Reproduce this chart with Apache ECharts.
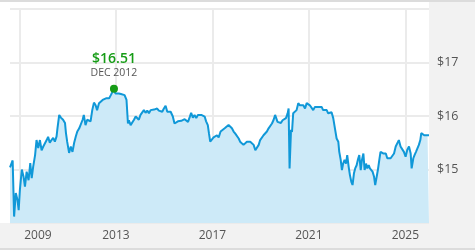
<!DOCTYPE html>
<html>
<head>
<meta charset="utf-8">
<script src="https://cdn.jsdelivr.net/npm/echarts@6/dist/echarts.min.js"></script>
<style>
html,body{margin:0;padding:0;background:#f2f2f2;}
#c{width:475px;height:250px;}
</style>
</head>
<body>
<div id="c"></div>
<script>
// Dates as decimal years
const years = [2008.61,2008.72,2008.78,2008.85,2008.92,2008.97,2009.02,2009.10,2009.17,2009.23,2009.30,2009.38,2009.45,2009.51,2009.57,2009.65,2009.71,2009.78,2009.85,2009.92,2009.99,2010.06,2010.13,2010.19,2010.26,2010.33,2010.40,2010.47,2010.54,2010.58,2010.65,2010.72,2010.81,2010.89,2010.93,2010.98,2011.06,2011.13,2011.20,2011.27,2011.34,2011.40,2011.48,2011.55,2011.62,2011.67,2011.74,2011.81,2011.89,2011.95,2012.02,2012.09,2012.16,2012.22,2012.30,2012.37,2012.45,2012.51,2012.59,2012.66,2012.72,2012.79,2012.86,2012.92,2012.98,2013.04,2013.12,2013.21,2013.29,2013.36,2013.44,2013.50,2013.54,2013.61,2013.68,2013.75,2013.82,2013.88,2013.95,2014.02,2014.09,2014.16,2014.23,2014.30,2014.37,2014.44,2014.50,2014.58,2014.65,2014.71,2014.78,2014.85,2014.92,2014.99,2015.06,2015.13,2015.20,2015.27,2015.36,2015.43,2015.50,2015.57,2015.64,2015.71,2015.78,2015.85,2015.91,2015.99,2016.06,2016.12,2016.19,2016.26,2016.33,2016.40,2016.47,2016.54,2016.61,2016.68,2016.74,2016.81,2016.86,2016.91,2016.98,2017.05,2017.12,2017.19,2017.26,2017.34,2017.41,2017.51,2017.57,2017.67,2017.74,2017.81,2017.88,2017.95,2018.02,2018.09,2018.15,2018.22,2018.29,2018.36,2018.43,2018.50,2018.57,2018.64,2018.71,2018.78,2018.85,2018.92,2018.98,2019.05,2019.12,2019.19,2019.26,2019.33,2019.40,2019.47,2019.54,2019.60,2019.65,2019.70,2019.77,2019.84,2019.91,2019.98,2020.05,2020.12,2020.16,2020.20,2020.26,2020.30,2020.35,2020.42,2020.49,2020.56,2020.63,2020.70,2020.77,2020.84,2020.91,2020.97,2021.04,2021.11,2021.18,2021.25,2021.32,2021.39,2021.46,2021.53,2021.59,2021.67,2021.74,2021.80,2021.87,2021.94,2022.01,2022.08,2022.15,2022.22,2022.26,2022.32,2022.37,2022.42,2022.48,2022.54,2022.59,2022.65,2022.70,2022.76,2022.81,2022.87,2022.92,2022.98,2023.03,2023.09,2023.15,2023.20,2023.26,2023.31,2023.37,2023.42,2023.48,2023.53,2023.59,2023.64,2023.70,2023.75,2023.81,2023.86,2023.92,2023.97,2024.03,2024.08,2024.14,2024.19,2024.25,2024.32,2024.39,2024.46,2024.53,2024.60,2024.66,2024.73,2024.80,2024.87,2024.94,2025.01,2025.08,2025.15,2025.22,2025.26,2025.33,2025.38,2025.44,2025.49,2025.56,2025.62,2025.66,2025.72,2025.78,2025.85,2025.92,2025.98];
const prices = [15.04,15.17,14.12,14.56,14.43,14.24,14.62,15.00,14.87,14.68,14.96,14.80,15.12,14.84,15.05,15.27,15.55,15.40,15.55,15.36,15.43,15.40,15.55,15.61,15.50,15.55,15.59,15.52,15.62,15.78,16.02,15.97,15.93,15.87,15.68,15.52,15.31,15.43,15.33,15.50,15.62,15.71,15.77,15.80,15.93,16.02,15.83,15.93,15.96,15.90,16.11,16.25,16.20,16.11,16.24,16.27,16.30,16.29,16.33,16.30,16.33,16.39,16.39,16.51,16.42,16.39,16.42,16.41,16.42,16.39,16.30,15.86,15.92,15.83,15.80,15.93,15.99,15.96,15.93,16.02,16.05,16.11,16.06,16.10,16.05,16.11,16.08,16.12,16.10,16.14,16.10,16.12,16.08,16.14,16.19,16.08,16.05,16.08,15.99,15.86,15.89,15.90,15.88,15.91,15.89,15.94,15.93,15.89,15.98,16.06,15.97,16.02,15.96,16.02,16.05,16.02,16.05,15.99,15.90,15.83,15.67,15.52,15.55,15.60,15.58,15.64,15.60,15.71,15.74,15.77,15.74,15.83,15.80,15.77,15.71,15.67,15.64,15.58,15.52,15.49,15.46,15.49,15.52,15.49,15.52,15.49,15.46,15.36,15.36,15.46,15.55,15.58,15.64,15.67,15.71,15.77,15.80,15.86,15.93,16.02,16.05,15.89,15.92,15.87,15.92,15.90,15.96,16.05,16.14,15.02,15.74,15.70,16.05,16.08,16.11,16.24,16.20,16.17,16.20,16.14,16.24,16.27,16.20,16.17,16.11,16.17,16.20,16.17,16.18,16.17,16.11,16.14,16.11,16.05,16.08,16.07,15.96,15.77,15.58,15.52,15.33,15.18,14.99,15.11,15.18,15.11,15.27,15.05,14.90,14.77,14.71,14.93,15.02,15.08,15.18,15.27,14.99,15.18,15.30,14.99,15.11,15.02,15.08,15.02,15.05,14.96,14.87,14.71,14.68,14.99,15.18,15.33,15.33,15.30,15.27,15.30,15.21,15.18,15.21,15.18,15.30,15.43,15.46,15.55,15.43,15.46,15.33,15.24,15.37,15.43,15.30,15.02,15.21,15.27,15.33,15.36,15.46,15.55,15.68,15.69,15.64,15.65,15.64,15.64];
const xTickYears = [2009, 2013, 2017, 2021, 2025];
const yTicks = [15, 16, 17];
const peakYear = 2012.92;
const peakValue = 16.51;
const peakLabel = 'DEC 2012';

const chart = echarts.init(document.getElementById('c'), null, {renderer: 'canvas'});
const FONT = '"Open Sans", "Noto Sans", sans-serif';
const GRID = '#ebebeb';
const option = {
  backgroundColor: '#f2f2f2',
  animation: false,
  textStyle: {fontFamily: FONT},
  graphic: [
    {type: 'rect', shape: {x: 0, y: 0, width: 475, height: 2}, style: {fill: '#dcdcdc'}, silent: true},
    {type: 'rect', shape: {x: 0, y: 2, width: 10, height: 221}, style: {fill: '#ffffff'}, silent: true},
    {type: 'rect', shape: {x: 10, y: 2, width: 419, height: 7}, style: {fill: '#ffffff'}, silent: true},
    {type: 'rect', shape: {x: 0, y: 248, width: 475, height: 2}, style: {fill: '#dcdcdc'}, silent: true}
  ],
  grid: {left: 10, right: 46, top: 9, bottom: 27, show: true, backgroundColor: '#ffffff', borderWidth: 0},
  xAxis: {
    type: 'value',
    min: years[0],
    max: years[years.length - 1],
    axisLine: {show: false},
    axisTick: {show: false, customValues: xTickYears},
    splitLine: {show: true, lineStyle: {color: GRID, width: 2}},
    axisLabel: {
      customValues: xTickYears,
      color: '#555555',
      fontSize: 12,
      fontFamily: FONT,
      margin: 7,
      formatter: function (v) {
        return v === xTickYears[0] ? '{f|' + v + '}' : '{n|' + v + '}';
      },
      rich: {
        f: {padding: [0, 0, 0, 37], fontSize: 12, color: '#555555', fontFamily: FONT},
        n: {fontSize: 12, color: '#555555', fontFamily: FONT}
      }
    }
  },
  yAxis: {
    type: 'value',
    position: 'right',
    min: 14,
    max: 18,
    interval: 1,
    axisLine: {show: false},
    axisTick: {show: false},
    splitLine: {show: true, lineStyle: {color: GRID, width: 2}},
    axisLabel: {
      color: '#555555',
      fontSize: 12.5,
      fontFamily: FONT,
      margin: 8,
      formatter: function (v) { return yTicks.indexOf(v) >= 0 ? '$' + v : ''; }
    }
  },
  series: [{
    type: 'line',
    data: years.map(function (y, i) { return [y, prices[i]]; }),
    symbol: 'none',
    showSymbol: false,
    sampling: null,
    lineStyle: {color: '#1098d8', width: 2},
    areaStyle: {color: '#cdeaf8', opacity: 1},
    z: 3,
    markPoint: {
      symbol: 'circle',
      symbolSize: 8,
      itemStyle: {color: '#169c16'},
      data: [{coord: [peakYear, peakValue]}],
      label: {
        show: true,
        position: 'top',
        distance: 5,
        formatter: '{a|$' + peakValue.toFixed(2) + '}\n{b|' + peakLabel + '}',
        rich: {
          a: {color: '#169c16', fontSize: 14, fontWeight: 600, lineHeight: 16, fontFamily: FONT, align: 'center'},
          b: {color: '#555555', fontSize: 10.5, lineHeight: 13, fontFamily: FONT, align: 'center'}
        }
      }
    }
  }]
};
chart.setOption(option);
</script>
</body>
</html>
